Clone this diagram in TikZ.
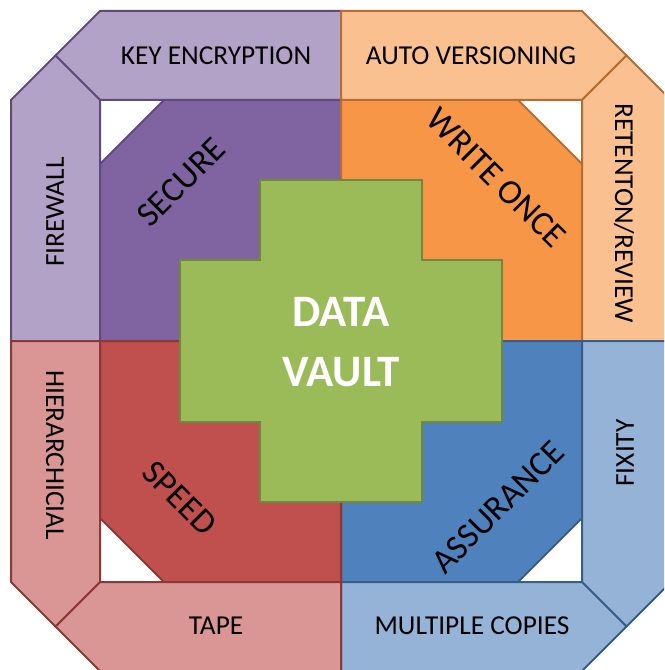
\documentclass[tikz,border=0pt]{standalone}
\usepackage{fontspec}
\setmainfont{Carlito}
\usetikzlibrary{calc}
\tikzset{
    piece/.style={line width=1.5pt, line join=miter},
    outertext/.style={font=\fontsize{20.5}{24}\selectfont, inner sep=0pt, text=black},
    innertext/.style={font=\fontsize{26}{30}\selectfont, inner sep=0pt, text=black},
    vaulttext/.style={font=\fontsize{33.7}{45}\selectfont\bfseries, text=white, align=center, inner sep=0pt}
}
\definecolor{p1}{HTML}{B3A2C7}
\definecolor{p2}{HTML}{8064A2}
\definecolor{p3}{HTML}{5F4A7C}
\definecolor{o1}{HTML}{FAC090}
\definecolor{o2}{HTML}{F79646}
\definecolor{o3}{HTML}{B66D31}
\definecolor{r1}{HTML}{D99694}
\definecolor{r2}{HTML}{C0504D}
\definecolor{r3}{HTML}{8C3836}
\definecolor{b1}{HTML}{95B3D7}
\definecolor{b2}{HTML}{4F81BD}
\definecolor{b3}{HTML}{385D8A}
\definecolor{g1}{HTML}{9BBB59}
\definecolor{g2}{HTML}{71893F}

\begin{document}
\begin{tikzpicture}[x=0.75pt, y=-0.75pt]
			\useasboundingbox (0,0) rectangle (664,670);
			\clip (0,0) rectangle (664,670);
			\fill[white] (0,0) rectangle (664,670);
			\filldraw[piece, fill=p2, draw=p3] (164,100) -- (341,100) -- (341,341) -- (100,341) -- (100,164) -- cycle;
			\filldraw[piece, fill=o2, draw=o3] (341,100) -- (518,100) -- (582,164) -- (582,341) -- (341,341) -- cycle;
			\filldraw[piece, fill=b2, draw=b3] (341,341) -- (582,341) -- (582,518) -- (518,582) -- (341,582) -- cycle;
			\filldraw[piece, fill=r2, draw=r3] (100,341) -- (341,341) -- (341,582) -- (164,582) -- (100,518) -- cycle;
			\filldraw[piece, fill=p1, draw=p3] (55.5,55.5) -- (100,11) -- (341,11) -- (341,100) -- (100,100) -- cycle;
			\filldraw[piece, fill=p1, draw=p3] (11,100) -- (55.5,55.5) -- (100,100) -- (100,341) -- (11,341) -- cycle;
			\filldraw[piece, fill=o1, draw=o3] (341,11) -- (582,11) -- (626.5,55.5) -- (582,100) -- (341,100) -- cycle;
			\filldraw[piece, fill=o1, draw=o3] (626.5,55.5) -- (671,100) -- (671,341) -- (582,341) -- (582,100) -- cycle;
			\filldraw[piece, fill=b1, draw=b3] (582,341) -- (671,341) -- (671,582) -- (626.5,626.5) -- (582,582) -- cycle;
			\filldraw[piece, fill=b1, draw=b3] (341,582) -- (582,582) -- (626.5,626.5) -- (582,671) -- (341,671) -- cycle;
			\filldraw[piece, fill=r1, draw=r3] (100,582) -- (341,582) -- (341,671) -- (100,671) -- (55.5,626.5) -- cycle;
			\filldraw[piece, fill=r1, draw=r3] (11,341) -- (100,341) -- (100,582) -- (55.5,626.5) -- (11,582) -- cycle;
			\filldraw[piece, fill=g1, draw=g2] (260,180) -- (422,180) -- (422,260) -- (502,260) -- (502,422) -- (422,422) -- (422,502) -- (260,502) -- (260,422) -- (180,422) -- (180,260) -- (260,260) -- cycle;
			\node[outertext] (keyenc) at (216,55.5) {KEY ENCRYPTION};
			\node[outertext] (autover) at (471,55.5) {AUTO VERSIONING};
			\node[outertext, rotate=90] (firewall) at (55,212) {FIREWALL};
			\node[outertext, rotate=-90] (retention) at (624,213) {RETENTON/REVIEW};
			\node[outertext, rotate=-90] (hierarch) at (55,455) {HIERARCHICIAL};
			\node[outertext, rotate=90] (fixity) at (625,453) {FIXITY};
			\node[outertext] (tape) at (216,626) {TAPE};
			\node[outertext] (copies) at (472,626) {MULTIPLE COPIES};
			\node[innertext, rotate=45] (secure) at (181,182) {SECURE};
			\node[innertext, rotate=-45] (writeonce) at (496,178) {WRITE ONCE};
			\node[innertext, rotate=-45] (speed) at (180,498) {SPEED};
			\node[innertext, rotate=45] (assurance) at (498,507) {ASSURANCE};
			\node[vaulttext] (vault) at (341,342) {DATA\\VAULT};
		\end{tikzpicture}
\end{document}
